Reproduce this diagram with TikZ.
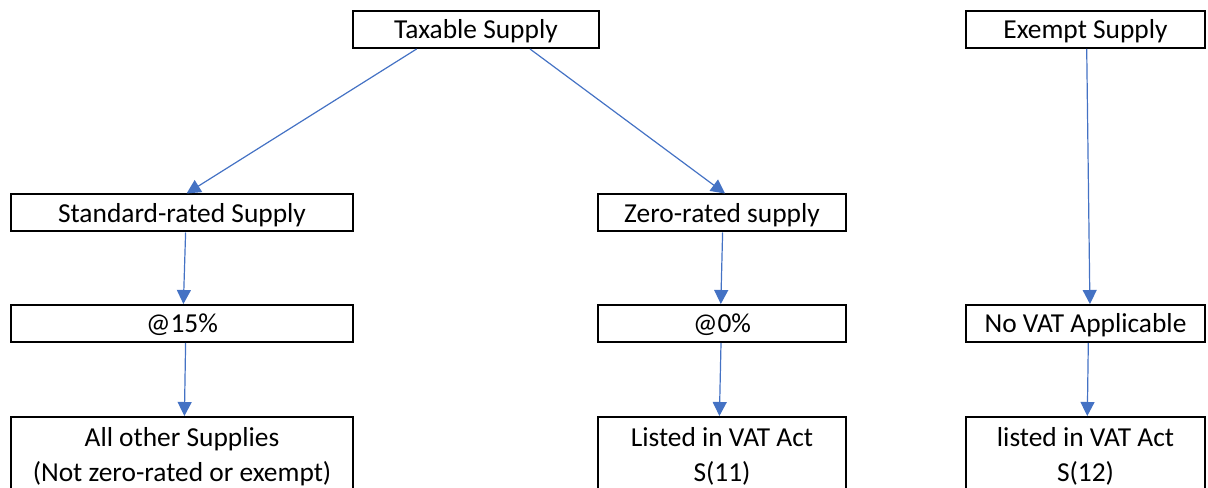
\documentclass[tikz,border=0pt]{standalone}
\usepackage{fontspec}
\setmainfont{Carlito}
\usepackage{xcolor}
\usetikzlibrary{arrows.meta}
\definecolor{arrowblue}{HTML}{4472C4}
\tikzstyle{node:box}=[draw,line width=1pt,inner sep=0pt,minimum height=18.5pt,text height=0.644em+3pt,text depth=0pt]
\tikzstyle{node:list}=[draw,line width=1pt,anchor=north,align=center,inner xsep=0pt,inner ysep=5pt]
\tikzstyle{draw:arrow}=[-{Triangle[length=7pt,width=7pt]},arrowblue,line width=0.6pt]

\begin{document}
\begin{tikzpicture}[x=0.5pt,y=0.5pt,font=\fontsize{13.7}{17.5}\selectfont]
        \useasboundingbox (0,0) rectangle (1208,487);

        % Top row
        \node[node:box,minimum width=123pt] (taxable) at (476,457.5) {Taxable Supply};
        \node[node:box,minimum width=119.5pt] (exempt) at (1085.5,457.5) {Exempt Supply};

        % Kinds of taxable supply
        \node[node:box,minimum width=171pt] (standard) at (182,274) {Standard-rated Supply};
        \node[node:box,minimum width=124pt] (zero) at (722,274) {Zero-rated supply};

        % Rates
        \node[node:box,minimum width=171pt] (rate15) at (182,163.5) {@15\%};
        \node[node:box,minimum width=124pt] (rate0) at (722,163.5) {@0\%};
        \node[node:box,minimum width=119.5pt] (novat) at (1085.5,163.5) {No VAT Applicable};

        % Which supplies (boxes run off the bottom)
        \node[node:list,minimum width=171pt] (other) at (182,71) {All other Supplies\\(Not zero-rated or exempt)};
        \node[node:list,minimum width=124pt] (list11) at (722,71) {Listed in VAT Act\\S(11)};
        \node[node:list,minimum width=119.5pt] (list12) at (1085.5,71) {listed in VAT Act\\S(12)};

        % Arrows from the top row
        \draw[draw:arrow] ([xshift=-29.7pt]taxable.south) -- ([xshift=2.3pt]standard.north);
        \draw[draw:arrow] ([xshift=27pt]taxable.south) -- ([xshift=1.5pt]zero.north);
        \draw[draw:arrow] ([xshift=0.6pt]exempt.south) -- ([xshift=2.2pt]novat.north);

        % Arrows down to the rates
        \draw[draw:arrow] ([xshift=1.8pt]standard.south) -- ([xshift=0.7pt]rate15.north);
        \draw[draw:arrow] ([xshift=0.3pt]zero.south) -- ([xshift=-0.6pt]rate0.north);

        % Arrows down to the lists
        \draw[draw:arrow] ([xshift=1.8pt]rate15.south) -- ([xshift=1.2pt]other.north);
        \draw[draw:arrow] ([xshift=-0.5pt]rate0.south) -- ([xshift=-1.3pt]list11.north);
        \draw[draw:arrow] ([xshift=1.4pt]novat.south) -- ([xshift=0.9pt]list12.north);

    \end{tikzpicture}
\end{document}
